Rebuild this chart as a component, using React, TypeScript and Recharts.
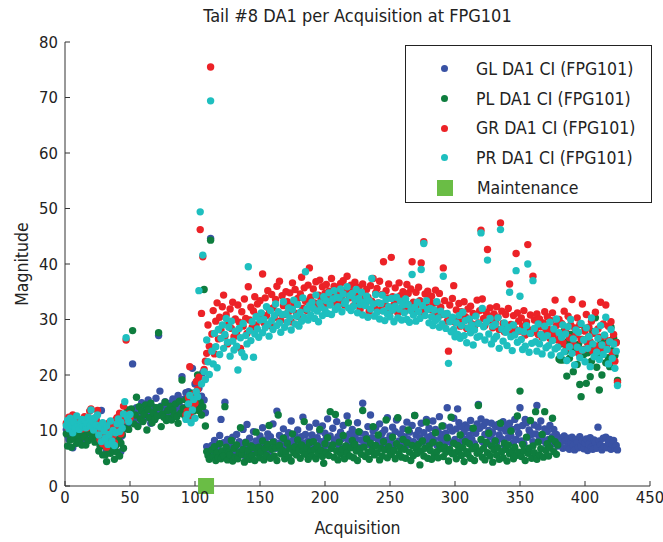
import React from 'react';
import { ScatterChart, Scatter, XAxis, YAxis, Legend } from 'recharts';

const FONT = "'Liberation Sans Narrow', 'DejaVu Sans Condensed', 'Arial Narrow', sans-serif";

const SERIES_NAMES = ['GL DA1 CI (FPG101)', 'PL DA1 CI (FPG101)', 'GR DA1 CI (FPG101)', 'PR DA1 CI (FPG101)'];
const COLORS = ['#3952a4', '#0e7d3e', '#ec2227', '#1ebfbf'];
const MAINT_COLOR = '#6abd45';

const X_TICKS = [0, 50, 100, 150, 200, 250, 300, 350, 400, 450];
const Y_TICKS = [0, 10, 20, 30, 40, 50, 60, 70, 80];

// one value per acquisition, starting at acquisition 1
const GL = [
  10.2, 9.1, 8.4, 10.8, 9.6, 6.9, 11.0, 9.3, 8.7, 10.4,
  8.9, 9.8, 10.6, 8.2, 9.5, 11.3, 10.1, 8.9, 9.7, 10.9,
  9.2, 8.6, 10.4, 11.8, 9.9, 8.1, 10.7, 13.6, 9.4, 8.3,
  7.2, 6.4, 8.8, 8.9, 7.6, 10.2, 6.8, 11.4, 7.9, 9.6,
  10.8, 8.4, 6.2, 9.1, 11.6, 10.3, 12.1, 10.7, 12.4, 13.2,
  11.5, 22.0, 13.8, 12.2, 14.1, 11.0, 13.5, 12.6, 15.0, 11.8,
  13.9, 12.4, 14.6, 15.5, 12.9, 11.3, 13.7, 14.2, 12.0, 15.8,
  13.1, 27.1, 17.1, 14.4, 12.7, 13.9, 15.2, 14.8, 12.5, 13.6,
  14.9, 13.2, 15.7, 15.2, 14.0, 12.8, 16.3, 14.5, 13.4, 19.7,
  15.6, 14.1, 16.8, 13.3, 17.0, 15.2, 14.7, 21.2, 16.1, 18.4,
  15.3, 19.0, 17.6, 14.8, 16.2, 20.4, 15.5, 13.2, 7.1, 6.4,
  5.8, 44.6, 7.3, 6.1, 8.2, 5.4, 7.0, 6.6, 9.1, 12.0,
  6.2, 7.8, 15.1, 5.9, 8.4, 6.7, 7.5, 5.2, 8.8, 6.4,
  7.1, 9.3, 5.7, 8.0, 6.3, 7.6, 10.2, 5.5, 7.9, 11.1,
  6.8, 8.6, 5.9, 7.4, 9.8, 6.6, 8.1, 7.2, 5.8, 9.0,
  7.7, 10.5, 6.4, 8.3, 7.0, 9.4, 6.1, 8.9, 7.5, 11.2,
  8.0, 6.8, 13.5, 7.6, 9.1, 6.5, 8.4, 10.3, 7.2, 8.8,
  6.9, 9.6, 7.8, 11.7, 8.2, 6.3, 9.0, 7.4, 10.1, 8.6,
  7.0, 8.9, 12.4, 7.7, 9.3, 6.6, 8.1, 10.6, 7.5, 9.2,
  8.4, 6.9, 11.3, 8.7, 7.3, 9.9, 8.0, 10.8, 7.1, 9.5,
  8.6, 12.1, 7.4, 9.0, 6.8, 10.4, 8.3, 7.7, 11.6, 8.9,
  7.2, 9.7, 8.5, 10.9, 6.7, 8.8, 12.6, 7.9, 9.4, 8.1,
  10.2, 7.6, 9.1, 8.4, 11.4, 7.0, 9.6, 8.3, 14.9, 7.8,
  9.3, 8.0, 10.7, 7.5, 12.8, 8.7, 9.9, 7.2, 10.5, 8.6,
  7.9, 11.2, 8.8, 9.5, 7.4, 10.1, 8.2, 12.3, 7.7, 9.0,
  8.5, 10.6, 7.3, 9.8, 11.9, 12.2, 8.1, 9.4, 7.6, 10.3,
  8.9, 7.1, 11.5, 8.4, 9.7, 7.8, 10.9, 8.0, 12.7, 9.2,
  7.5, 10.0, 8.7, 11.3, 7.9, 9.6, 8.2, 12.0, 8.8, 10.4,
  7.6, 9.1, 11.7, 8.3, 10.2, 7.4, 9.8, 12.5, 8.6, 9.3,
  10.8, 7.7, 9.5, 14.1, 8.1, 10.6, 7.8, 9.9, 12.2, 8.4,
  10.3, 13.9, 11.4, 7.9, 10.7, 8.6, 9.8, 11.0, 8.2, 10.5,
  9.1, 11.8, 8.4, 10.1, 7.6, 9.5, 11.2, 14.7, 10.4, 12.1,
  8.0, 10.9, 9.3, 11.5, 7.7, 10.0, 8.9, 11.3, 9.6, 8.3,
  10.7, 7.9, 11.1, 9.2, 10.4, 8.5, 11.6, 7.4, 9.9, 10.8,
  8.7, 11.3, 9.0, 10.2, 7.8, 12.0, 8.4, 10.6, 9.5, 14.1,
  8.1, 10.9, 7.6, 12.0, 11.4, 8.8, 10.1, 9.6, 9.3, 8.0,
  11.0, 9.4, 14.5, 10.6, 8.6, 11.7, 9.1, 8.2, 10.3, 7.7,
  9.8, 8.4, 10.9, 7.5, 8.9, 10.2, 8.0, 9.3, 7.2, 8.7,
  7.6, 8.3, 6.8, 9.0, 8.1, 7.0, 8.6, 6.6, 7.9, 8.8,
  7.3, 6.5, 8.4, 7.8, 6.9, 8.9, 7.2, 8.2, 6.7, 7.7,
  8.5, 6.4, 7.6, 8.7, 7.0, 6.6, 8.3, 7.9, 6.8, 10.6,
  8.1, 7.4, 6.5, 8.6, 7.1, 8.8, 6.9, 7.8, 8.4, 6.6,
  7.5, 8.2, 6.8, 7.3, 6.5,
];

const PL = [
  9.4, 7.2, 10.6, 8.3, 7.0, 9.8, 8.6, 11.2, 7.7, 9.1,
  8.0, 10.3, 7.4, 9.5, 8.8, 7.4, 10.0, 8.2, 9.6, 11.5,
  8.7, 10.8, 7.9, 9.2, 8.4, 6.3, 7.1, 9.0, 5.6, 7.8,
  5.6, 4.4, 6.8, 7.5, 5.9, 8.2, 6.5, 4.8, 7.3, 6.1,
  8.6, 5.4, 7.7, 9.3, 6.8, 10.4, 11.9, 13.7, 10.2, 12.5,
  13.9, 28.0, 11.2, 12.8, 16.0, 10.7, 14.3, 12.1, 13.5, 11.6,
  12.9, 14.6, 10.1, 13.8, 12.3, 14.9, 11.4, 13.2, 12.0, 14.1,
  12.6, 27.6, 14.2, 10.7, 13.0, 12.4, 15.1, 11.8, 13.6, 12.2,
  14.4, 11.9, 13.7, 12.9, 14.8, 12.5, 11.3, 15.3, 13.1, 19.1,
  14.0, 12.7, 15.5, 13.8, 15.5, 12.3, 14.6, 16.7, 13.5, 15.8,
  14.2, 20.0, 13.6, 15.1, 12.8, 14.3, 35.4, 10.8, 6.2, 5.5,
  4.8, 44.3, 6.5, 5.3, 7.1, 4.6, 6.0, 5.1, 7.6, 4.9,
  6.3, 5.4, 14.3, 7.0, 4.7, 6.1, 5.6, 8.2, 4.5, 6.8,
  5.2, 7.4, 4.9, 6.0, 10.5, 5.7, 6.6, 4.3, 7.8, 5.3,
  6.4, 4.8, 7.2, 5.5, 6.9, 4.6, 9.7, 5.9, 7.0, 5.1,
  6.2, 8.1, 4.7, 6.8, 5.5, 7.5, 10.9, 5.0, 6.6, 7.9,
  5.4, 6.9, 4.6, 12.8, 7.3, 5.8, 6.4, 8.6, 4.9, 6.1,
  7.7, 5.2, 6.8, 4.5, 9.4, 6.0, 7.1, 5.6, 8.3, 6.5,
  5.0, 7.4, 6.2, 11.6, 5.7, 6.9, 4.8, 7.8, 6.3, 5.4,
  8.0, 6.6, 4.9, 7.2, 5.9, 10.2, 6.4, 5.3, 4.1, 7.6,
  6.1, 8.7, 5.5, 13.4, 6.8, 7.4, 5.2, 12.9, 6.3, 4.7,
  7.9, 5.8, 6.6, 9.1, 4.9, 7.2, 6.0, 11.4, 5.4, 6.9,
  8.2, 5.1, 7.5, 6.3, 4.6, 9.8, 6.7, 5.7, 13.6, 7.0,
  5.3, 8.5, 6.1, 4.8, 7.7, 6.4, 10.7, 5.6, 7.3, 6.0,
  9.2, 4.7, 6.8, 5.4, 8.0, 6.5, 11.9, 5.1, 7.1, 6.2,
  5.7, 8.8, 6.4, 4.9, 7.6, 12.3, 5.8, 6.9, 5.2, 8.4,
  6.6, 5.0, 7.8, 10.1, 6.1, 4.6, 7.3, 5.5, 12.7, 6.7,
  5.9, 7.5, 3.8, 6.3, 8.1, 5.4, 6.8, 11.5, 5.0, 7.2,
  6.4, 4.8, 7.9, 5.6, 9.6, 6.2, 5.1, 7.4, 6.7, 10.8,
  5.3, 7.0, 6.1, 8.7, 4.5, 6.6, 12.4, 5.8, 7.7, 6.0,
  4.9, 7.3, 6.4, 9.2, 5.5, 6.9, 4.4, 8.0, 6.2, 5.7,
  7.6, 5.0, 6.7, 10.4, 4.6, 7.1, 5.9, 14.5, 6.3, 8.4,
  5.2, 6.8, 4.7, 7.9, 6.0, 9.5, 5.4, 7.2, 4.3, 6.5,
  8.1, 5.6, 6.9, 4.8, 11.3, 6.2, 5.1, 7.7, 6.6, 4.5,
  7.4, 5.8, 9.9, 6.3, 4.9, 7.0, 5.5, 12.6, 6.1, 17.1,
  5.3, 7.5, 6.4, 4.6, 8.8, 5.9, 6.8, 11.8, 5.0, 7.2,
  6.0, 13.4, 4.8, 7.9, 5.6, 6.7, 9.3, 5.2, 13.4, 6.4,
  7.6, 5.4, 6.9, 8.5, 12.2, 6.2, 8.0, 5.7, 7.4, 22.9,
  22.7, 25.6, 22.7, 28.0, 24.3, 19.8, 26.1, 23.0, 27.3, 25.0,
  20.6, 24.8, 27.6, 21.9, 25.5, 18.3, 16.1, 26.4, 23.7, 28.4,
  18.5, 24.0, 26.9, 19.7, 22.5, 27.8, 25.3, 30.3, 21.4, 23.8,
  17.3, 26.2, 20.0, 24.6, 27.1, 22.2, 25.8, 23.1, 21.5, 28.6,
  24.4, 26.7, 23.5, 25.9, 19.0,
];

// GR and PR have no readings between acquisition 51 and 92
const EARLY_START = 1;
const LATE_START = 93;

const GR_EARLY = [
  11.3, 10.6, 12.4, 11.0, 10.2, 12.8, 11.7, 10.9, 12.1, 11.4,
  10.8, 11.9, 10.3, 11.6, 12.5, 11.1, 10.5, 12.2, 13.5, 13.9,
  11.5, 12.0, 10.7, 11.8, 13.6, 9.6, 8.4, 11.2, 7.6, 10.3,
  8.9, 7.0, 9.7, 11.4, 8.2, 10.6, 9.1, 7.8, 11.9, 12.3,
  10.0, 13.1, 9.4, 11.7, 14.4, 12.6, 26.3, 11.8, 13.0, 12.2,
];

const GR_LATE = [
  12.8, 13.5, 15.9, 21.5, 12.5, 14.2, 16.6, 14.9,
  18.8, 17.4, 19.6, 46.2, 31.1, 41.3, 21.0, 22.5, 23.9, 29.0,
  25.2, 75.5, 27.4, 31.6, 23.8, 29.7, 33.0, 26.5, 30.4, 28.1,
  32.3, 34.4, 27.0, 30.8, 25.6, 29.3, 31.9, 28.4, 33.1, 26.9,
  30.1, 27.7, 32.6, 29.5, 24.8, 31.4, 28.8, 33.7, 30.2, 27.5,
  35.9, 29.9, 32.2, 28.6, 31.5, 34.1, 29.0, 32.8, 30.6, 33.4,
  31.0, 38.2, 29.4, 33.9, 30.7, 35.2, 31.8, 28.9, 34.5, 32.1,
  30.3, 33.6, 36.0, 31.2, 36.9, 29.8, 34.3, 32.5, 30.9, 35.0,
  33.2, 31.4, 34.8, 29.6, 36.6, 32.7, 35.4, 31.1, 33.8, 30.5,
  34.6, 37.6, 32.0, 35.7, 33.3, 31.6, 36.2, 39.3, 34.0, 32.9,
  35.5, 33.0, 36.8, 31.9, 34.4, 37.1, 33.5, 35.9, 32.4, 34.7,
  36.3, 33.7, 35.1, 32.8, 37.4, 34.2, 36.0, 33.1, 35.6, 34.9,
  33.4, 36.5, 34.1, 37.0, 32.6, 35.3, 37.8, 34.6, 33.9, 36.2,
  35.0, 32.5, 36.7, 34.3, 33.2, 35.8, 31.8, 34.9, 36.4, 33.6,
  32.9, 35.4, 34.0, 31.5, 36.1, 33.3, 37.4, 32.2, 34.8, 35.6,
  33.0, 36.9, 31.7, 34.5, 40.4, 32.8, 35.2, 33.9, 36.4, 31.4,
  41.2, 34.1, 32.6, 35.7, 33.5, 31.2, 36.6, 34.3, 32.1, 35.0,
  33.7, 31.6, 36.3, 34.7, 32.4, 35.5, 40.4, 33.1, 31.9, 34.9,
  32.7, 35.8, 33.4, 40.2, 31.3, 44.0, 34.6, 32.3, 35.1, 33.6,
  31.8, 34.2, 32.9, 30.6, 35.3, 33.0, 31.5, 34.7, 32.2, 30.9,
  39.3, 33.4, 31.0, 29.7, 24.3, 32.6, 30.3, 33.8, 36.1, 29.5,
  31.7, 30.1, 32.9, 28.8, 31.4, 29.6, 33.2, 30.5, 28.4, 31.9,
  30.0, 32.4, 29.2, 31.1, 28.7, 30.8, 33.5, 29.4, 31.6, 46.1,
  33.7, 30.2, 28.9, 31.3, 42.6, 29.8, 32.1, 30.6, 28.5, 31.0,
  29.6, 32.3, 30.4, 28.2, 47.4, 31.5, 29.3, 27.8, 30.9, 28.6,
  32.0, 36.4, 29.1, 27.5, 30.7, 28.3, 41.9, 31.2, 29.7, 27.9,
  30.3, 28.8, 31.6, 27.2, 29.5, 43.5, 28.1, 30.8, 27.6, 37.8,
  29.9, 28.4, 31.0, 27.3, 30.1, 28.7, 26.8, 29.4, 31.4, 27.9,
  30.5, 28.2, 26.6, 29.8, 31.2, 27.4, 33.5, 28.9, 26.3, 30.0,
  27.1, 29.3, 25.8, 31.5, 28.0, 24.9, 30.6, 26.7, 29.0, 33.6,
  25.4, 28.5, 27.2, 30.3, 23.9, 29.1, 26.4, 32.8, 24.6, 27.9,
  30.9, 25.7, 28.6, 26.0, 29.7, 24.3, 27.5, 31.3, 25.2, 28.3,
  26.8, 33.1, 24.7, 29.2, 27.0, 32.6, 25.5, 28.8, 26.2, 29.6,
  24.0, 27.3, 22.5, 25.8, 18.7,
];

const PR_EARLY = [
  10.9, 11.8, 10.3, 12.2, 11.0, 9.6, 11.5, 10.4, 12.6, 11.1,
  10.2, 11.4, 12.0, 10.7, 11.9, 10.5, 11.3, 12.4, 10.8, 13.7,
  11.6, 10.1, 12.3, 11.0, 12.8, 9.2, 10.6, 8.0, 11.4, 9.9,
  8.6, 10.8, 7.5, 9.3, 11.7, 8.1, 10.0, 7.3, 9.6, 11.2,
  12.1, 9.8, 11.5, 10.4, 13.0, 15.2, 26.7, 12.4, 11.6, 12.9,
];

const PR_LATE = [
  12.0, 12.9, 14.8, 16.3, 11.4, 13.7, 15.6, 12.2,
  17.0, 16.1, 35.2, 49.4, 18.4, 41.6, 20.6, 19.2, 26.3, 22.4,
  20.1, 69.4, 24.3, 22.0, 27.5, 25.1, 21.3, 28.2, 23.7, 26.6,
  29.0, 24.8, 27.3, 30.2, 25.9, 28.6, 23.4, 29.7, 26.1, 24.5,
  27.9, 25.2, 20.9, 28.4, 26.7, 24.0, 29.3, 23.3, 27.1, 25.6,
  39.5, 28.0, 26.2, 29.6, 23.2, 27.4, 30.5, 28.3, 26.8, 29.9,
  31.2, 27.6, 30.0, 28.5, 32.3, 29.1, 27.0, 31.6, 29.8, 28.2,
  30.7, 32.8, 28.9, 31.4, 29.4, 27.7, 30.9, 33.2, 28.6, 31.0,
  29.5, 32.1, 30.3, 28.1, 31.8, 33.5, 29.2, 30.6, 32.7, 28.8,
  31.3, 29.7, 33.9, 30.4, 38.6, 31.9, 29.9, 32.5, 30.8, 33.1,
  32.0, 30.2, 34.4, 31.5, 29.6, 33.0, 32.2, 30.7, 34.1, 31.7,
  33.4, 31.1, 34.8, 32.6, 30.9, 33.7, 35.2, 31.8, 34.0, 32.3,
  33.9, 35.5, 31.4, 34.6, 32.9, 33.3, 35.9, 32.1, 34.3, 31.6,
  34.7, 32.4, 33.6, 35.4, 31.2, 33.8, 32.7, 34.9, 30.8, 33.1,
  32.5, 34.2, 30.4, 33.4, 31.9, 37.4, 32.8, 30.6, 34.5, 31.3,
  33.0, 30.1, 32.9, 34.4, 31.5, 29.8, 33.6, 31.0, 32.3, 30.5,
  33.8, 31.7, 29.6, 32.4, 34.0, 30.3, 31.9, 33.3, 29.9, 32.6,
  31.2, 33.7, 30.0, 32.7, 29.5, 31.6, 38.1, 30.8, 32.2, 29.7,
  33.1, 31.4, 30.2, 39.0, 32.5, 43.7, 30.7, 33.4, 31.8, 29.4,
  32.0, 30.5, 28.9, 31.7, 29.8, 33.2, 30.3, 28.6, 31.5, 29.2,
  37.8, 30.9, 28.4, 31.1, 22.1, 29.6, 27.8, 30.4, 28.2, 26.9,
  29.4, 27.3, 30.7, 26.6, 28.9, 31.3, 27.1, 29.8, 25.8, 28.5,
  30.1, 27.6, 29.0, 25.4, 28.1, 30.6, 26.8, 29.3, 27.0, 45.6,
  32.0, 28.7, 26.3, 29.5, 40.7, 27.4, 30.2, 25.6, 28.8, 26.5,
  29.1, 27.0, 30.3, 24.8, 46.2, 28.3, 26.1, 29.4, 27.7, 25.3,
  28.6, 34.9, 26.9, 24.4, 29.0, 27.2, 38.8, 25.9, 28.0, 34.2,
  26.4, 24.6, 27.8, 25.2, 28.9, 40.0, 24.1, 27.5, 25.7, 37.0,
  28.4, 26.0, 24.3, 29.2, 25.6, 27.3, 23.8, 26.7, 28.8, 24.9,
  27.1, 25.3, 29.5, 23.6, 26.2, 28.3, 24.7, 30.1, 25.0, 27.6,
  23.5, 26.8, 29.0, 24.2, 27.4, 22.6, 28.7, 25.1, 30.0, 23.9,
  26.5, 21.8, 28.1, 25.0, 27.7, 23.1, 29.3, 24.5, 26.3, 22.4,
  28.5, 24.8, 26.9, 21.5, 30.3, 25.6, 23.3, 27.9, 24.1, 26.6,
  22.8, 28.9, 25.4, 23.7, 27.2, 30.4, 24.6, 22.0, 26.0, 28.2,
  23.0, 25.6, 21.2, 24.3, 18.1,
];

const MAINTENANCE = [108.5];

const toPoints = (vals: number[], start: number) => vals.map((y, i) => ({ x: start + i, y }));

const glData = toPoints(GL, 1);
const plData = toPoints(PL, 1);
const grData = [...toPoints(GR_EARLY, EARLY_START), ...toPoints(GR_LATE, LATE_START)];
const prData = [...toPoints(PR_EARLY, EARLY_START), ...toPoints(PR_LATE, LATE_START)];
const maintData = MAINTENANCE.map((x) => ({ x, y: 0 }));

const dot = (color: string) => (props: any) => (
  <circle cx={props.cx} cy={props.cy} r={3.7} fill={color} />
);

const square = (props: any) => (
  <rect x={props.cx - 8} y={props.cy - 8} width={16} height={16} fill={MAINT_COLOR} />
);

const renderLegend = () => (
  <div
    style={{
      border: '1.5px solid #222',
      width: 247,
      height: 158,
      boxSizing: 'border-box',
      background: '#fff',
      fontFamily: FONT,
      fontSize: 17.5,
      color: '#222',
      paddingTop: 8,
    }}
  >
    {SERIES_NAMES.map((name, i) => (
      <div key={name} style={{ display: 'flex', alignItems: 'center', height: 29.7 }}>
        <span
          style={{
            display: 'inline-block',
            width: 7,
            height: 7,
            borderRadius: '50%',
            background: COLORS[i],
            marginLeft: 35,
            marginRight: 28,
          }}
        />
        <span>{name}</span>
      </div>
    ))}
    <div style={{ display: 'flex', alignItems: 'center', height: 29.7 }}>
      <span
        style={{
          display: 'inline-block',
          width: 16,
          height: 16,
          background: MAINT_COLOR,
          marginLeft: 31,
          marginRight: 24,
        }}
      />
      <span>Maintenance</span>
    </div>
  </div>
);

const tickStyle = { fontFamily: FONT, fontSize: 16.5, fill: '#222' };
const labelStyle = { fontFamily: FONT, fontSize: 17.5, fill: '#222' };

export default function App() {
  return (
    <div style={{ position: 'absolute', left: 0, top: 0, width: 663, height: 542, background: '#fff' }}>
      <div
        style={{
          position: 'absolute',
          left: 65,
          width: 585,
          top: 5,
          textAlign: 'center',
          fontFamily: FONT,
          fontSize: 18,
          color: '#222',
        }}
      >
        Tail #8 DA1 per Acquisition at FPG101
      </div>
      <ScatterChart width={663} height={542} margin={{ top: 42, right: 13, bottom: 0, left: 0 }}>
        <XAxis
          type="number"
          dataKey="x"
          domain={[0, 450]}
          ticks={X_TICKS}
          interval={0}
          height={56}
          tickSize={-5}
          tickMargin={10}
          tick={tickStyle}
          stroke="#333"
          label={{ value: 'Acquisition', position: 'insideBottom', offset: 8, style: labelStyle }}
        />
        <YAxis
          type="number"
          dataKey="y"
          domain={[0, 80]}
          ticks={Y_TICKS}
          interval={0}
          width={65}
          tickSize={-5}
          tickMargin={12}
          tick={tickStyle}
          stroke="#333"
          label={{ value: 'Magnitude', angle: -90, position: 'insideLeft', offset: 22, style: { ...labelStyle, textAnchor: 'middle' } }}
        />
        <Legend
          content={renderLegend}
          layout="vertical"
          align="center"
          verticalAlign="middle"
          wrapperStyle={{ position: 'absolute', left: 405, top: 45, width: 247, height: 158 }}
        />
        <Scatter name={SERIES_NAMES[0]} data={glData} fill={COLORS[0]} shape={dot(COLORS[0])} isAnimationActive={false} />
        <Scatter name={SERIES_NAMES[1]} data={plData} fill={COLORS[1]} shape={dot(COLORS[1])} isAnimationActive={false} />
        <Scatter name={SERIES_NAMES[2]} data={grData} fill={COLORS[2]} shape={dot(COLORS[2])} isAnimationActive={false} />
        <Scatter name={SERIES_NAMES[3]} data={prData} fill={COLORS[3]} shape={dot(COLORS[3])} isAnimationActive={false} />
        <Scatter name="Maintenance" data={maintData} fill={MAINT_COLOR} shape={square} isAnimationActive={false} />
      </ScatterChart>
    </div>
  );
}
